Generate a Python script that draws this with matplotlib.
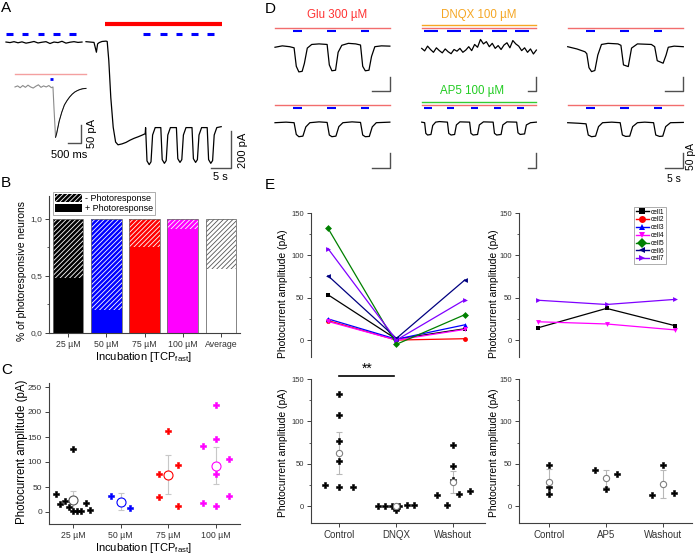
import numpy as np
import matplotlib
matplotlib.use('Agg')
import matplotlib.pyplot as plt
from matplotlib.patches import Patch
from matplotlib.lines import Line2D

plt.rcParams['font.family'] = ['Liberation Sans', 'DejaVu Sans']
plt.rcParams['mathtext.fontset'] = 'custom'
plt.rcParams['mathtext.rm'] = 'Liberation Sans'
plt.rcParams['hatch.linewidth'] = 0.6

# ---------------- data ----------------
# A: whole-cell trace (t in s, I in pA)
a_pre_t = [0, 1, 2, 3, 4, 5, 6, 7, 8, 9, 10, 11, 12, 13, 14, 15, 16, 17, 18, 19]
a_pre_i = [0, -3, 2, -4, 1, -6, -2, 3, -5, -1, 2, -8, 0, -3, 4, -6, -1, 2, -2, 0]
a_glu_t = [20, 21, 22, 22.6, 22.9, 23.3, 24, 25, 25.3, 25.7, 26.2, 26.8, 27.4, 28, 29,
           30, 31, 32, 33, 34, 34.8]
a_glu_i = [2, 0, -2, -55, -10, -3, 3, 5, 3, -100, -300, -460, -540, -555, -550,
           -542, -530, -520, -512, -503, -495]
a_pulse_on = [34.9, 38.7, 42.6, 46.5, 50.3]
a_pulse_depth = [-662, -655, -650, -650, -655]
a_pulse_base = -462
a_end = 53.8
a_blue_pre = [0, 3.9, 7.9, 11.8, 15.75]
a_blue_post = [34.3, 38.5, 42.4, 46.3, 50.2]
a_blue_len = 1.7
a_glu_bar = (24.75, 54.0)

# A inset (t in ms, I in pA)
ins_t = [0, 100, 200, 300, 400, 500, 600, 700, 800, 900, 1000, 1100, 1200, 1300, 1400,
         1460, 1500, 1560, 1600, 1700, 1800, 1900, 2000, 2100, 2200, 2300, 2400, 2500,
         2600, 2730]
ins_i = [0, 3, -2, 4, -1, 5, 0, -3, 2, 6, -1, 3, 0, 4, -2,
         0, -60, -140, -130, -95, -70, -50, -38, -28, -20, -14, -10, -7, -5, -4]

# B: fraction of photoresponsive neurons
b_cats = ['25 µM', '50 µM', '75 µM', '100 µM', 'Average']
b_pos = [0.48, 0.20, 0.75, 0.91, 0.56]
b_cols = ['#000000', '#0000FF', '#FF0000', '#FF00FF', '#FFFFFF']

# C: photocurrent amplitude per concentration
c_cats = ['25 µM', '50 µM', '75 µM', '100 µM']
c_cols = ['#000000', '#0000FF', '#FF0000', '#FF00FF']
c_mean_cols = ['#555555', '#0000FF', '#FF0000', '#FF00FF']
c_off = [[-0.35, -0.26, -0.17, -0.09, 0, 0, 0.09, 0.18, 0.27, 0.36],
         [-0.2, 0.2],
         [-0.2, -0.2, 0, 0.2, 0.2],
         [-0.27, -0.27, 0, 0, 0, 0, 0.26, 0.26]]
c_val = [[36, 17, 22, 11, 127, 2, 2, 2, 19, 4],
         [32, 9],
         [76, 31, 163, 95, 12],
         [132, 18, 215, 146, 76, 13, 107, 32]]
c_mean = [24, 21, 75, 93]
c_err = [19, 17, 39, 37]

# D: traces (t in s, I in pA)
d_glu1_t = [0, 2, 4, 5.2, 5.8, 6.5, 7.4, 8.0, 8.8, 10, 12, 14.2, 14.8, 15.5, 16.5, 17.2,
            18.2, 20, 22, 23.3, 23.9, 24.6, 25.6, 26.3, 27.2, 29, 31.3]
d_glu1_i = [-2, 3, 0, -4, -70, -90, -88, -60, -5, 8, 10, 8, -65, -86, -84, -20,
            5, 12, 10, 6, -70, -86, -84, -35, 0, 3, 2]
d_dnqx_t = list(range(0, 80, 2))
d_dnqx_i = [-6, -15, 2, -10, -20, -4, -14, -22, -8, -18, -25, -10, -16, -6, -20, -12, 0,
            -14, 8, -2, 26, 10, 18, 0, 12, -6, 4, -10, 6, 14, -4, 22, 10, 2, -14, -4,
            -20, -8, -26, -12]
d_wash1_t = [0, 2.5, 4.7, 5.2, 5.8, 6.5, 7.4, 8.2, 9.2, 11, 13.7, 14.5, 15.2, 16.5, 17.4,
             19, 22.8, 23.7, 24.4, 26, 26.8, 27.4, 29, 31.5]
d_wash1_i = [0, -8, -18, -25, -75, -89, -85, -30, 8, 12, 10, 5, -65, -71, -5,
             10, 8, 0, -50, -59, -30, -2, 2, 0]
d_glu2_t = [0, 3, 5.2, 5.8, 6.5, 7.6, 8.4, 9.5, 12, 14.2, 14.8, 15.5, 16.6, 17.4, 18.5,
            21, 23.3, 23.9, 24.6, 25.7, 26.5, 27.6, 31.3]
d_glu2_i = [0, 2, 0, -42, -50, -48, -15, 0, 3, 1, -44, -50, -48, -14, 0,
            3, 1, -44, -50, -49, -15, 0, 2]
d_ap5_t = [0, 2.0, 2.8, 4, 6.3, 7.5, 9.5, 12, 17.5, 18.4, 20, 22.4, 23.6, 26,
           32.6, 33.5, 35, 38, 39.2, 42, 48.6, 49.5, 51, 54, 55.2, 58,
           64.6, 65.5, 67, 70, 71.2, 74, 78]
d_ap5_i = [2, 0, -38, -44, -42, -10, 2, 4, 2, -38, -44, -42, -8, 3,
           2, -38, -44, -42, -8, 3, 2, -38, -44, -42, -8, 3,
           2, -36, -42, -40, -8, 0, 2]
d_wash2_t = [0, 3, 5.0, 5.6, 6.5, 7.6, 8.4, 9.5, 12, 14.3, 14.9, 15.8, 16.9, 17.7, 19,
             21, 23.4, 24.0, 25, 25.9, 26.7, 28, 31.5]
d_wash2_i = [0, -2, -4, -44, -50, -48, -14, 0, 2, 0, -44, -49, -48, -14, 0,
             2, 0, -44, -49, -48, -14, 0, 1]
d_light_3 = [(5.0, 7.4), (14.3, 16.6), (23.4, 25.7)]
d_light_dnqx = [(1.8, 11.4), (17.5, 26.8), (32.7, 42.0), (48.1, 57.9), (63.5, 73.3)]
d_light_ap5 = [(1.8, 6.8), (17.5, 22.3), (33.4, 38.1), (49.2, 54.0), (64.6, 69.3)]

# E: paired recordings
cells = ['cell1', 'cell2', 'cell3', 'cell4', 'cell5', 'cell6', 'cell7']
cell_cols = ['#000000', '#FF0000', '#0000FF', '#FF00FF', '#008000', '#000080', '#8000FF']
cell_mk = ['s', 'o', '^', 'v', 'D', '<', '>']
e_dnqx_cats = ['Control', 'DNQX', 'Washout']
e_dnqx_cells = [[53.5, 1, 13.4], [23, 0, 1.6], [25, 1, 18], [22, 0, 12.6],
                [132, -5, 30], [76, 2, 71], [108, 0, 47.6]]
e_ap5_cats = ['Control', 'AP5', 'Washout']
e_ap5_ids = [0, 3, 6]
e_ap5_cells = [[14.5, 37.4, 17], [21.6, 19, 12], [47, 42, 48]]

e_dnqx_off = [[-0.25, 0, 0, 0, 0, 0, 0.25],
              [-0.32, -0.19, -0.07, 0, 0.06, 0.19, 0.32],
              [-0.29, -0.1, 0, 0, 0, 0.1, 0.29]]
e_dnqx_val = [[25, 132, 108, 77, 53.5, 23, 22],
              [0, 0, 0, -5, 0, 1, 1],
              [12.6, 1.6, 71.7, 47, 30.7, 14, 18]]
e_dnqx_mean = [63, 0, 28]
e_dnqx_err = [25, 1, 13]
e_ap5_off = [[0, 0, 0], [-0.2, 0, 0.2], [-0.2, 0, 0.2]]
e_ap5_val = [[48.4, 22.8, 14], [42.5, 19.7, 37.4], [13, 48.4, 16]]
e_ap5_mean = [28.7, 32.6, 26]
e_ap5_err = [14.7, 10.5, 17]

# ---------------- helpers ----------------
W, H = 697, 555
fig = plt.figure(figsize=(W / 100, H / 100), dpi=100)


def px_axes(x0, y0, x1, y1):
    ax = fig.add_axes([x0 / W, 1 - y1 / H, (x1 - x0) / W, (y1 - y0) / H])
    ax.set_facecolor('none')
    return ax


def ptext(x, y, s, **kw):
    kw.setdefault('ha', 'center')
    kw.setdefault('va', 'center')
    fig.text(x / W, 1 - y / H, s, **kw)


def style(ax, bottom=True, ysize=5.5, xsize=7):
    for s in ['top', 'right']:
        ax.spines[s].set_visible(False)
    ax.spines['bottom'].set_visible(bottom)
    for s in ax.spines.values():
        s.set_color('#404040')
        s.set_linewidth(0.8)
    ax.tick_params(direction='out', length=3, width=0.7, color='#404040',
                   labelcolor='#333333', pad=2)
    ax.tick_params(axis='y', labelsize=ysize)
    ax.tick_params(axis='x', labelsize=xsize)
    ax.tick_params(which='minor', length=1.8, width=0.6, color='#404040')


SB = '#505050'
DOT = dict(marker='P', ls='none', ms=4.4, mew=0.4)

# ---------------- A ----------------
axA = px_axes(0, 15, 250, 185)
axA.axis('off')
axA.set_xlim(-1.5, 61)
axA.set_ylim(-772, 146)
axA.plot(a_pre_t, a_pre_i, color='black', lw=0.9)
pt, pi = list(a_glu_t), list(a_glu_i)
for on, dp in zip(a_pulse_on, a_pulse_depth):
    pt += [on, on + 0.35, on + 0.9, on + 1.35, on + 1.75, on + 2.4]
    pi += [a_pulse_base, dp + 20, dp, dp + 15, a_pulse_base - 40, a_pulse_base]
pt.append(a_end)
pi.append(a_pulse_base + 5)
axA.plot(pt, pi, color='black', lw=0.9)
for s in a_blue_pre + a_blue_post:
    axA.plot([s, s + a_blue_len], [43, 43], color='#0000FF', lw=2.2, solid_capstyle='butt')
axA.plot(a_glu_bar, [97, 97], color='#FF0000', lw=3, solid_capstyle='butt')
axA.plot([56.25, 56.25, 51.25], [-481, -680, -680], color=SB, lw=1)
ptext(243, 150, '200 pA', rotation=90, fontsize=8)
ptext(220, 177, '5 s', fontsize=8)

axI = px_axes(10, 60, 100, 165)
axI.axis('off')
axI.set_xlim(-192, 3269)
axI.set_ylim(-217, 75)
axI.plot(ins_t, ins_i, color='#8a8a8a', lw=0.8)
axI.plot(ins_t[17:], ins_i[17:], color='black', lw=0.6)
axI.plot([0, 2730], [36, 36], color='#F4A0A0', lw=1)
axI.plot([1346, 1460], [22, 22], color='#0000FF', lw=2, solid_capstyle='butt')
axI.plot([2538, 2538, 2038], [-106, -156, -156], color=SB, lw=1)
ptext(92, 134, '50 pA', rotation=90, fontsize=8)
ptext(69, 155, '500 ms', fontsize=8)

# ---------------- B ----------------
axB = px_axes(49, 196, 240, 333)
xb = np.arange(1, len(b_cats) + 1)
for i, (p, c) in enumerate(zip(b_pos, b_cols)):
    hc = '#555555' if c == '#FFFFFF' else 'white'
    axB.bar(xb[i], p, 0.8, color=c, edgecolor='none')
    axB.bar(xb[i], 1 - p, 0.8, bottom=p, color=c, edgecolor='none')
    axB.bar(xb[i], 1 - p, 0.8, bottom=p, color='none', edgecolor=hc, hatch='///////', lw=0)
    axB.bar(xb[i], 1, 0.8, color='none', edgecolor='#707070', lw=0.6)
axB.set_xlim(0.5, 5.5)
axB.set_ylim(0, 1.2)
axB.set_xticks(xb)
axB.set_xticklabels(b_cats)
axB.set_yticks([0, 0.5, 1.0])
axB.set_yticklabels(['0,0', '0,5', '1,0'])
axB.set_yticks([0.25, 0.75], minor=True)
style(axB, ysize=6, xsize=6.3)
h_neg = (Patch(facecolor='black', edgecolor='none'),
         Patch(facecolor='none', edgecolor='white', hatch='///////', lw=0))
h_pos = Patch(facecolor='black', edgecolor='none')
leg = axB.legend([h_neg, h_pos], ['- Photoresponse', '+ Photoresponse'],
                 loc='upper left', bbox_to_anchor=(53 / W, 1 - 192 / H),
                 bbox_transform=fig.transFigure, fontsize=6.5, frameon=True,
                 fancybox=False, edgecolor='#888888', borderpad=0.2,
                 handlelength=3.0, handleheight=1.0, handletextpad=0.3,
                 labelspacing=0.1, borderaxespad=0)
leg.get_frame().set_linewidth(0.6)
ptext(22, 271, '% of photoresponsive neurons', rotation=90, fontsize=7.5)
ptext(144, 357, 'Incubation [TCP$_{\\mathrm{fast}}$]', fontsize=8)

# ---------------- C ----------------
axC = px_axes(49, 383, 240, 524)
for i in range(len(c_cats)):
    xs = [i + 1 + o for o in c_off[i]]
    axC.plot(xs, c_val[i], color=c_cols[i], mec=c_cols[i], zorder=3, **DOT)
    axC.errorbar(i + 1, c_mean[i], yerr=c_err[i], fmt='none', ecolor='#C8C8C8',
                 elinewidth=0.8, capsize=2.5, capthick=0.8, zorder=2)
    axC.plot(i + 1, c_mean[i], 'o', mfc='white', mec=c_mean_cols[i], ms=6.5, mew=0.8,
             zorder=4)
axC.set_xlim(0.5, 4.5)
axC.set_ylim(-24, 258)
axC.set_xticks(range(1, 5))
axC.set_xticklabels(c_cats)
axC.set_yticks([0, 50, 100, 150, 200, 250])
style(axC, ysize=6, xsize=6.3)
ptext(22, 452, 'Photocurrent amplitude (pA)', rotation=90, fontsize=8.3)
ptext(144, 548, 'Incubation [TCP$_{\\mathrm{fast}}$]', fontsize=8)

# ---------------- D ----------------
d_x0 = [275, 421.7, 567.7]
d_pps = [3.67, 1.47, 3.67]
d_base = [46.7, 122.7]
d_ppa = 0.28
d_traces = [[(d_glu1_t, d_glu1_i), (d_dnqx_t, d_dnqx_i), (d_wash1_t, d_wash1_i)],
            [(d_glu2_t, d_glu2_i), (d_ap5_t, d_ap5_i), (d_wash2_t, d_wash2_i)]]
d_lights = [[d_light_3, d_light_dnqx, d_light_3], [d_light_3, d_light_ap5, d_light_3]]
d_ends = [31.3, 78.0, 31.5]
d_red = [68, 63]
d_blue = [56, 51]
d_sb = [(-107, -157), (-108, -162)]
for r in range(2):
    for c in range(3):
        ax = px_axes(d_x0[c] - 3, d_base[r] - 45, d_x0[c] + 125, d_base[r] + 50)
        ax.axis('off')
        ax.set_xlim(-3 / d_pps[c], 125 / d_pps[c])
        ax.set_ylim(-50 / d_ppa, 45 / d_ppa)
        t, i = d_traces[r][c]
        ax.plot(t, i, color='black', lw=0.9)
        ax.plot([0, d_ends[c]], [d_red[r], d_red[r]], color='#F26D6D', lw=1)
        if r == 0 and c == 1:
            ax.plot([0, d_ends[c]], [78, 78], color='#F5A623', lw=1)
        if r == 1 and c == 1:
            ax.plot([0, d_ends[c]], [73, 73], color='#33CC33', lw=1)
        for s, e in d_lights[r][c]:
            ax.plot([s, e], [d_blue[r], d_blue[r]], color='#0000FF', lw=1.5,
                    solid_capstyle='butt')
        te = d_ends[c] if c != 1 else 77.5
        ax.plot([te, te, te - 5], [d_sb[r][0], d_sb[r][1], d_sb[r][1]], color=SB, lw=1)
ptext(337, 15, 'Glu 300 µM', color='#FF3333', fontsize=8.3)
ptext(479, 15, 'DNQX 100 µM', color='#F5A623', fontsize=8.3)
ptext(472, 91, 'AP5 100 µM', color='#22CC22', fontsize=8.3)
ptext(691, 157, '50 pA', rotation=90, fontsize=7.5)
ptext(674, 179, '5 s', fontsize=7.5)

# ---------------- E ----------------
axE1 = px_axes(311, 213, 482, 357)
for k in range(len(cells)):
    axE1.plot([1, 2, 3], e_dnqx_cells[k], color=cell_cols[k], marker=cell_mk[k],
              ms=3.5, lw=0.9, mew=0)
axE1.set_xlim(0.752, 3.25)
axE1.set_ylim(-20, 150)
axE1.set_xticks([])
axE1.set_yticks([0, 50, 100, 150])
axE1.set_yticks([25, 75, 125], minor=True)
style(axE1, bottom=False)

axE2 = px_axes(519, 213, 692, 357)
for j, k in enumerate(e_ap5_ids):
    axE2.plot([1, 2, 3], e_ap5_cells[j], color=cell_cols[k], marker=cell_mk[k],
              ms=3.5, lw=0.9, mew=0)
axE2.set_xlim(0.72, 3.25)
axE2.set_ylim(-20, 150)
axE2.set_xticks([])
axE2.set_yticks([0, 50, 100, 150])
axE2.set_yticks([25, 75, 125], minor=True)
style(axE2, bottom=False)
handles = [Line2D([], [], color=cell_cols[k], marker=cell_mk[k], ms=5, lw=1, mew=0)
           for k in range(len(cells))]
leg = axE2.legend(handles, cells, loc='upper left',
                  bbox_to_anchor=(634 / W, 1 - 207 / H), bbox_transform=fig.transFigure,
                  fontsize=4.8, frameon=True, fancybox=False, edgecolor='#888888',
                  borderpad=0.25, handlelength=2.0, handletextpad=0.2,
                  labelspacing=0.12, borderaxespad=0)
leg.get_frame().set_linewidth(0.6)


def scatter_panel(ax, offs, vals, means, errs):
    for i in range(3):
        xs = [i + 1 + o for o in offs[i]]
        ax.plot(xs, vals[i], color='black', mec='black', zorder=3, **DOT)
        ax.errorbar(i + 1, means[i], yerr=errs[i], fmt='none', ecolor='#B8B8B8',
                    elinewidth=0.8, capsize=2.5, capthick=0.8, zorder=2)
        ax.plot(i + 1, means[i], 'o', mfc='white', mec='#808080', ms=4.5, mew=0.8,
                zorder=4)


axE3 = px_axes(311, 379, 485, 523)
scatter_panel(axE3, e_dnqx_off, e_dnqx_val, e_dnqx_mean, e_dnqx_err)
axE3.set_xlim(0.51, 3.56)
axE3.set_ylim(-20, 150)
axE3.set_xticks([1, 2, 3])
axE3.set_xticklabels(e_dnqx_cats)
axE3.set_yticks([0, 50, 100, 150])
axE3.set_yticks([25, 75, 125], minor=True)
style(axE3)
axE3.plot([1, 1.97], [154, 154], color='black', lw=1.2, clip_on=False)
axE3.text(1.5, 154, '**', ha='center', va='bottom', fontsize=10, clip_on=False)

axE4 = px_axes(519, 379, 692, 523)
scatter_panel(axE4, e_ap5_off, e_ap5_val, e_ap5_mean, e_ap5_err)
axE4.set_xlim(0.47, 3.51)
axE4.set_ylim(-20, 150)
axE4.set_xticks([1, 2, 3])
axE4.set_xticklabels(e_ap5_cats)
axE4.set_yticks([0, 50, 100, 150])
axE4.set_yticks([25, 75, 125], minor=True)
style(axE4)

for x, y in [(283, 294), (494, 294), (283, 453), (494, 453)]:
    ptext(x, y, 'Photocurrent amplitude (pA)', rotation=90, fontsize=7.4)

# panel letters
for s, x, y in [('A', 6, 8), ('B', 6, 183), ('C', 7, 370), ('D', 270, 9), ('E', 270, 185)]:
    ptext(x, y, s, fontsize=11)

fig.savefig('out.png', dpi=100)
